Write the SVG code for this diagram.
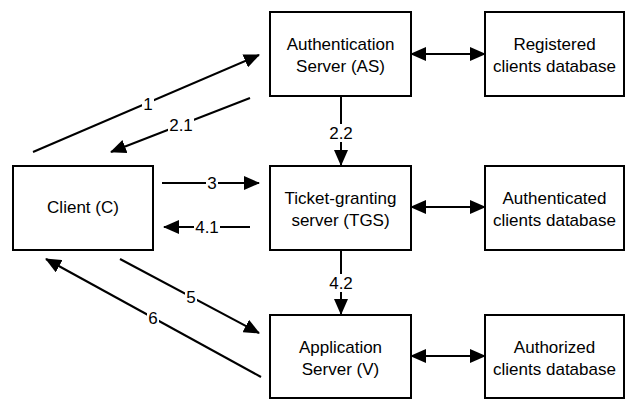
<svg xmlns="http://www.w3.org/2000/svg" width="625" height="399" viewBox="0 0 625 399">
<defs>
<marker id="ah" markerUnits="userSpaceOnUse" markerWidth="16" markerHeight="14" refX="15" refY="7" orient="auto-start-reverse" viewBox="0 0 16 14">
<path d="M0,0 L16,7 L0,14 z" fill="#000"/>
</marker>
</defs>
<style>
.box{fill:#fff;stroke:#000;stroke-width:2}
.t{font-family:"Liberation Sans",Arial,sans-serif;font-size:17px;fill:#000;text-anchor:middle}
.lbl{font-family:"Liberation Sans",Arial,sans-serif;font-size:17px;fill:#000;text-anchor:middle}
.bg{fill:#fff}
.c{stroke:#000;stroke-width:2;fill:none;marker-end:url(#ah)}
.d{marker-start:url(#ah)}
</style>
<rect width="625" height="399" fill="#fff"/>
<g id="connectors">
<line class="c" x1="33" y1="152" x2="259" y2="55"/>
<line class="c" x1="250" y1="98" x2="111" y2="152"/>
<line class="c" x1="341" y1="96" x2="341" y2="165"/>
<line class="c" x1="162" y1="183" x2="259" y2="183"/>
<line class="c" x1="250" y1="227" x2="164" y2="227"/>
<line class="c" x1="341" y1="250" x2="341" y2="314"/>
<line class="c" x1="120" y1="259" x2="259" y2="333"/>
<line class="c" x1="261" y1="377" x2="46" y2="259"/>
<line class="c d" x1="411" y1="54" x2="485" y2="54"/>
<line class="c d" x1="411" y1="207" x2="485" y2="207"/>
<line class="c d" x1="411" y1="356" x2="485" y2="356"/>
<rect class="bg" x="142" y="95" width="12" height="18"/>
<text class="lbl" x="148" y="110">1</text>
<rect class="bg" x="168" y="116" width="26" height="18"/>
<text class="lbl" x="181" y="131">2.1</text>
<rect class="bg" x="328" y="124" width="26" height="18"/>
<text class="lbl" x="341" y="139">2.2</text>
<rect class="bg" x="206" y="174" width="12" height="18"/>
<text class="lbl" x="212" y="189">3</text>
<rect class="bg" x="194" y="218" width="26" height="18"/>
<text class="lbl" x="207" y="233">4.1</text>
<rect class="bg" x="328" y="274" width="26" height="18"/>
<text class="lbl" x="341" y="289">4.2</text>
<rect class="bg" x="185" y="288" width="12" height="18"/>
<text class="lbl" x="191" y="303">5</text>
<rect class="bg" x="147" y="309" width="12" height="18"/>
<text class="lbl" x="153" y="324">6</text>
</g>
<g id="as">
<rect class="box" x="270" y="12" width="141" height="84"/>
<text class="t" x="340.5" y="50">Authentication</text>
<text class="t" x="340.5" y="72">Server (AS)</text>
</g>
<g id="regdb">
<rect class="box" x="485" y="12" width="139" height="84"/>
<text class="t" x="554.5" y="50">Registered</text>
<text class="t" x="554.5" y="72">clients database</text>
</g>
<g id="client">
<rect class="box" x="13" y="166" width="140" height="84"/>
<text class="t" x="83" y="213">Client (C)</text>
</g>
<g id="tgs">
<rect class="box" x="270" y="166" width="141" height="84"/>
<text class="t" x="340.5" y="204">Ticket-granting</text>
<text class="t" x="340.5" y="226">server (TGS)</text>
</g>
<g id="authdb">
<rect class="box" x="485" y="166" width="139" height="84"/>
<text class="t" x="554.5" y="204">Authenticated</text>
<text class="t" x="554.5" y="226">clients database</text>
</g>
<g id="app">
<rect class="box" x="270" y="315" width="141" height="83"/>
<text class="t" x="340.5" y="353">Application</text>
<text class="t" x="340.5" y="375">Server (V)</text>
</g>
<g id="authzdb">
<rect class="box" x="485" y="315" width="139" height="83"/>
<text class="t" x="554.5" y="353">Authorized</text>
<text class="t" x="554.5" y="375">clients database</text>
</g>
</svg>
